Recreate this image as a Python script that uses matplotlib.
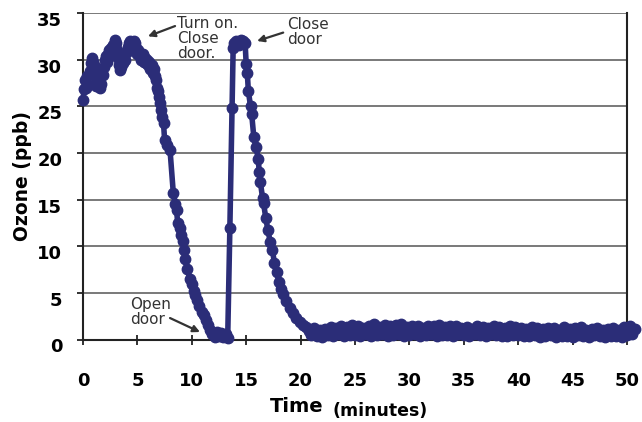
import matplotlib
matplotlib.use("Agg")
import matplotlib.pyplot as plt
from matplotlib.transforms import ScaledTranslation

# ---- data (time in minutes, ozone in ppb) ----
time_early = [0.0, 0.1, 0.2, 0.3, 0.4, 0.5, 0.6, 0.7, 0.8, 0.9, 1.0, 1.1, 1.2, 1.3, 1.4,
              1.5, 1.6, 1.7, 1.8, 1.9, 2.0, 2.1, 2.2, 2.3, 2.4, 2.5, 2.6, 2.7, 2.8, 2.9,
              3.0, 3.1, 3.2, 3.3, 3.4, 3.5, 3.6, 3.7, 3.8, 3.9, 4.0, 4.1, 4.2, 4.3, 4.4,
              4.5, 4.6, 4.7, 4.8, 4.9, 5.0, 5.1, 5.2, 5.3, 5.4, 5.5, 5.6, 5.7, 5.8, 5.9,
              6.0, 6.1, 6.2, 6.3, 6.4, 6.5, 6.6, 6.7, 6.8, 6.9, 7.0, 7.1, 7.2, 7.3, 7.4,
              7.5, 7.7, 8.0, 8.3, 8.5, 8.6, 8.7, 8.9, 9.0, 9.2, 9.3, 9.4, 9.6, 9.8, 10.0,
              10.2, 10.3, 10.5, 10.7, 10.9, 11.1, 11.3, 11.5, 11.7, 11.9, 12.1, 12.3, 12.5,
              12.7, 12.9, 13.1, 13.3, 13.5, 13.7, 13.8, 13.9, 14.1, 14.3, 14.5, 14.7, 14.9,
              15.0, 15.1, 15.2, 15.4, 15.5, 15.7, 15.9, 16.1, 16.2, 16.3, 16.5, 16.6, 16.8,
              17.0, 17.2, 17.4, 17.6, 17.8, 18.0, 18.2, 18.4, 18.7, 19.0, 19.3, 19.6, 19.9,
              20.2, 20.5, 20.8]
ozone_early = [25.7, 26.8, 27.8, 27.0, 28.2, 27.3, 28.8, 29.6, 30.2, 29.8, 29.4, 28.4, 27.2, 27.8, 28.6,
               28.0, 27.0, 27.4, 28.4, 29.2, 30.0, 30.4, 29.8, 30.6, 31.0, 30.4, 31.2, 30.8, 31.6, 32.1,
               31.8, 31.0, 30.2, 29.4, 28.9, 29.2, 30.0, 29.6, 30.4, 30.0, 30.8, 31.4, 31.8, 32.0, 31.6,
               31.9, 31.4, 32.0, 31.8, 31.2, 30.6, 31.0, 30.4, 30.0, 30.2, 30.6, 29.8, 30.2, 29.6, 30.0,
               29.4, 29.8, 29.0, 29.4, 28.6, 29.0, 28.2, 27.8, 27.0, 26.6, 26.0, 25.4, 24.6, 23.8, 23.2,
               21.4, 20.8, 20.3, 15.7, 14.5, 13.9, 12.5, 12.0, 11.2, 10.6, 9.6, 8.6, 7.6, 6.5, 6.0,
               5.2, 4.8, 4.2, 3.6, 3.0, 2.6, 2.1, 1.6, 1.0, 0.6, 0.3, 0.8, 0.4,
               0.7, 0.3, 0.6, 0.2, 12.0, 24.8, 31.2, 31.8, 32.0, 31.6, 32.1, 32.0, 31.8,
               29.5, 28.6, 26.6, 25.0, 24.2, 21.7, 20.6, 19.4, 18.0, 16.9, 15.2, 14.6, 13.0,
               11.7, 10.5, 9.6, 8.2, 7.2, 6.2, 5.4, 4.9, 4.1, 3.4, 2.8, 2.3, 1.9,
               1.6, 1.3, 0.9]

time_tail = [21.0, 21.25, 21.5, 21.75, 22.0, 22.25, 22.5, 22.75, 23.0, 23.25, 23.5, 23.75,
             24.0, 24.25, 24.5, 24.75, 25.0, 25.25, 25.5, 25.75, 26.0, 26.25, 26.5, 26.75,
             27.0, 27.25, 27.5, 27.75, 28.0, 28.25, 28.5, 28.75, 29.0, 29.25, 29.5, 29.75,
             30.0, 30.25, 30.5, 30.75, 31.0, 31.25, 31.5, 31.75, 32.0, 32.25, 32.5, 32.75,
             33.0, 33.25, 33.5, 33.75, 34.0, 34.25, 34.5, 34.75, 35.0, 35.25, 35.5, 35.75,
             36.0, 36.25, 36.5, 36.75, 37.0, 37.25, 37.5, 37.75, 38.0, 38.25, 38.5, 38.75,
             39.0, 39.25, 39.5, 39.75, 40.0, 40.25, 40.5, 40.75, 41.0, 41.25, 41.5, 41.75,
             42.0, 42.25, 42.5, 42.75, 43.0, 43.25, 43.5, 43.75, 44.0, 44.25, 44.5, 44.75,
             45.0, 45.25, 45.5, 45.75, 46.0, 46.25, 46.5, 46.75, 47.0, 47.25, 47.5, 47.75,
             48.0, 48.25, 48.5, 48.75, 49.0, 49.25, 49.5, 49.75, 50.0, 50.25, 50.5, 50.75]
ozone_tail = [0.5, 1.2, 0.4, 1.0, 0.3, 1.1, 0.5, 1.3, 0.4, 1.2, 0.6, 1.5,
              0.4, 1.3, 0.5, 1.6, 0.5, 1.4, 0.4, 1.2, 0.6, 1.5, 0.4, 1.7,
              0.5, 1.3, 0.6, 1.6, 0.4, 1.4, 0.5, 1.6, 0.6, 1.7, 0.4, 1.3,
              0.5, 1.4, 0.6, 1.5, 0.4, 1.2, 0.5, 1.4, 0.6, 1.5, 0.4, 1.6,
              0.5, 1.3, 0.5, 1.5, 0.4, 1.5, 0.6, 1.2, 0.5, 1.3, 0.4, 1.1,
              0.6, 1.4, 0.5, 1.3, 0.4, 1.2, 0.6, 1.4, 0.5, 1.3, 0.4, 1.2,
              0.4, 1.4, 0.5, 1.3, 0.5, 1.2, 0.4, 1.1, 0.4, 1.3, 0.5, 1.2,
              0.3, 1.1, 0.4, 1.2, 0.5, 1.2, 0.3, 1.0, 0.4, 1.3, 0.4, 1.1,
              0.3, 1.2, 0.5, 1.3, 0.4, 1.0, 0.3, 1.1, 0.5, 1.2, 0.4, 1.0,
              0.3, 1.1, 0.4, 1.2, 0.4, 1.0, 0.3, 1.3, 0.5, 1.4, 0.6, 1.1]

x_ticks = [0, 5, 10, 15, 20, 25, 30, 35, 40, 45, 50]
y_ticks = [0, 5, 10, 15, 20, 25, 30, 35]

times = time_early + time_tail
ozone = ozone_early + ozone_tail

NAVY = "#2B2D78"
TXT = "#333333"

fig = plt.figure(figsize=(6.42, 4.22), dpi=100)
ax = fig.add_axes([83/642, 1 - 339.5/422, 544/642, 326.5/422])

ax.plot(times, ozone, color=NAVY, lw=4, marker="o", markersize=7.5,
        markerfacecolor=NAVY, markeredgecolor=NAVY, clip_on=False, zorder=3)

ax.set_xlim(0, 50)
ax.set_ylim(0, 35)
ax.set_xticks(x_ticks)
ax.set_yticks(y_ticks)
ax.grid(axis="y", color="#555555", lw=1.1, zorder=1)
ax.set_axisbelow(True)

for s in ["left", "bottom", "right"]:
    ax.spines[s].set_color("#222222")
    ax.spines[s].set_linewidth(1.5)
ax.spines["top"].set_visible(False)

ax.tick_params(axis="x", direction="inout", length=7, width=1.3, color="#222222",
               pad=20, labelsize=13)
ax.tick_params(axis="y", direction="out", length=4, width=1.3, color="#222222",
               pad=11, labelsize=13)
for lab in ax.get_xticklabels() + ax.get_yticklabels():
    lab.set_fontweight("bold")
off = ScaledTranslation(0, -6/100, fig.dpi_scale_trans)
for lab in ax.get_yticklabels():
    lab.set_transform(lab.get_transform() + off)

ax.set_ylabel("Ozone (ppb)", fontsize=13.5, fontweight="bold")
ax.yaxis.set_label_coords(-0.094, 0.5)

fig.text(323/642, 1 - 407/422, "Time", ha="right", va="center", fontsize=14, fontweight="bold")
fig.text(333/642, 1 - 411/422, "(minutes)", ha="left", va="center", fontsize=12.5, fontweight="bold")

arrow_kw = dict(arrowstyle="-|>", color=TXT, lw=1.6, mutation_scale=10, shrinkA=0, shrinkB=0)
ax.text(8.64, 34.7, "Turn on.\nClose\ndoor.", fontsize=11, color=TXT, va="top", ha="left",
        linespacing=1.0)
ax.annotate("", xy=(5.97, 32.5), xytext=(8.46, 33.6), arrowprops=arrow_kw)
ax.text(18.75, 34.6, "Close\ndoor", fontsize=11, color=TXT, va="top", ha="left", linespacing=1.0)
ax.annotate("", xy=(16.0, 32.0), xytext=(18.4, 32.9), arrowprops=arrow_kw)
ax.text(4.32, 4.55, "Open\ndoor", fontsize=11, color=TXT, va="top", ha="left", linespacing=1.0)
ax.annotate("", xy=(10.75, 0.8), xytext=(8.0, 2.3), arrowprops=arrow_kw)

fig.savefig("out.png", dpi=100)
